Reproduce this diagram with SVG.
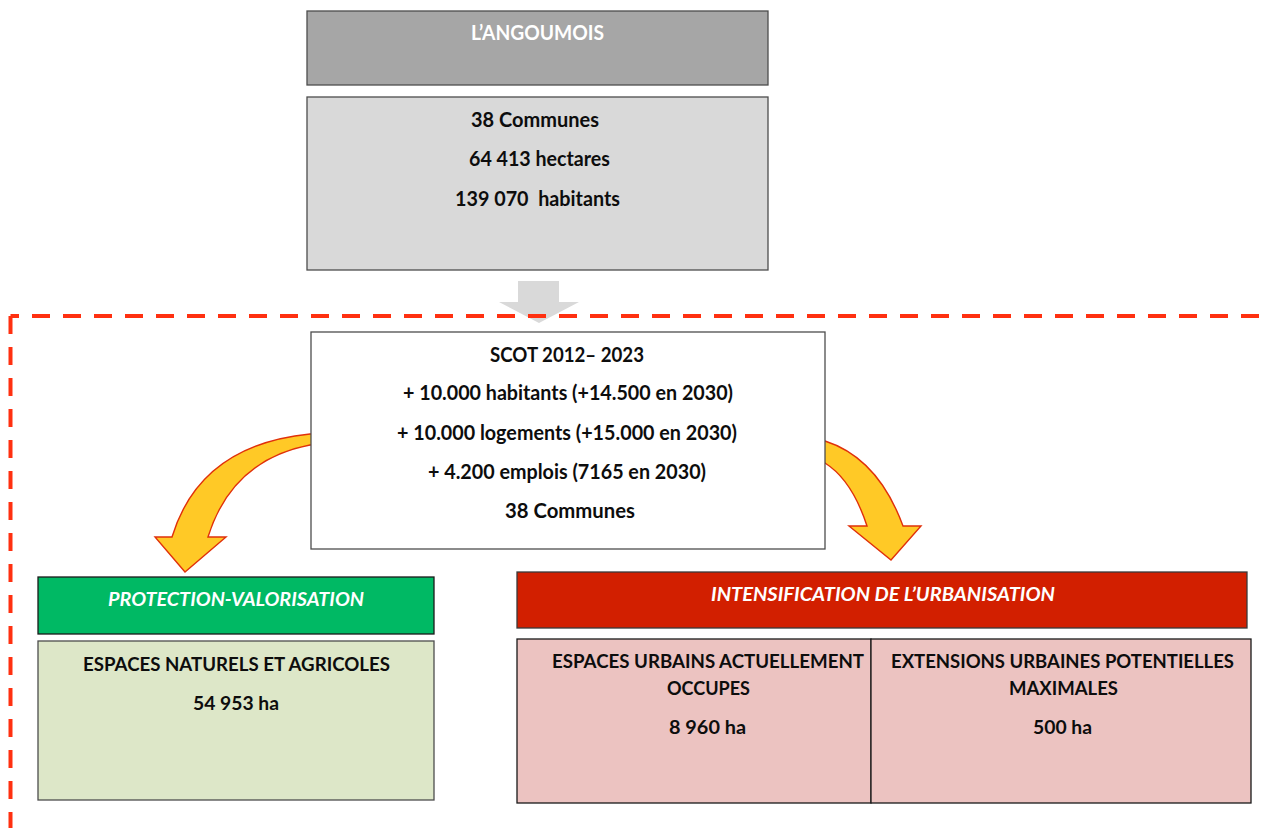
<svg xmlns="http://www.w3.org/2000/svg" width="1272" height="828" viewBox="0 0 1272 828">
<style>
text{font-family:Lato,"Noto Sans","Liberation Sans",sans-serif;font-weight:bold;fill:#0d0d0d;}
.big{font-size:20px;}
.sm{font-size:18.5px;}
.wh{fill:#ffffff;}
.it{font-style:italic;}
.box{stroke:#4d4d4d;stroke-width:1.3;}
.yarrow{fill:#ffc926;stroke:#e0300a;stroke-width:1.4;stroke-linejoin:miter;}
.dash{fill:none;stroke:#ff3010;stroke-width:4;stroke-dasharray:18 13;}
</style>

<g id="connectors">
  <path id="gray-arrow" d="M518,281 H559 V302 H579 L539,323 L499,302 H518 Z" fill="#d9d9d9"/>
  <path id="arrow-left" class="yarrow" d="M314,434 L310,434 Q200,445 172,537 L155,537 L185,572 L226,537 L208,537 Q232,460 310,445 L314,445 Z"/>
  <path id="arrow-right" class="yarrow" d="M821,441 L825,441 Q878,458 903,526 L921,526 L891,560 L849,526 L867,526 Q852,480 825,463 L821,463 Z"/>
</g>

<g id="boundary">
  <line class="dash" x1="10.5" y1="316" x2="10.5" y2="828"/>
  <line class="dash" x1="10.5" y1="316" x2="1272" y2="316" stroke-dashoffset="9.5"/>
</g>

<g id="angoumois-title">
  <rect class="box" x="307" y="11" width="461" height="74" fill="#a6a6a6"/>
  <text class="big wh" x="471" y="40" textLength="133" lengthAdjust="spacingAndGlyphs">L’ANGOUMOIS</text>
</g>

<g id="angoumois-data">
  <rect class="box" x="307" y="97" width="461" height="173" fill="#d9d9d9"/>
  <text class="big" x="471" y="127" textLength="128" lengthAdjust="spacingAndGlyphs">38 Communes</text>
  <text class="big" x="469" y="166" textLength="141" lengthAdjust="spacingAndGlyphs">64 413 hectares</text>
  <text class="big" x="455" y="206" textLength="165" lengthAdjust="spacingAndGlyphs" xml:space="preserve">139 070  habitants</text>
</g>

<g id="scot">
  <rect class="box" x="311" y="332" width="514" height="217" fill="#ffffff"/>
  <text class="big" x="490" y="362" textLength="154" lengthAdjust="spacingAndGlyphs">SCOT 2012– 2023</text>
  <text class="big" x="403" y="400" textLength="330" lengthAdjust="spacingAndGlyphs">+ 10.000 habitants (+14.500 en 2030)</text>
  <text class="big" x="397" y="440" textLength="340" lengthAdjust="spacingAndGlyphs">+ 10.000 logements (+15.000 en 2030)</text>
  <text class="big" x="428" y="479" textLength="278" lengthAdjust="spacingAndGlyphs">+ 4.200 emplois (7165 en 2030)</text>
  <text class="big" x="505" y="518" textLength="130" lengthAdjust="spacingAndGlyphs">38 Communes</text>
</g>

<g id="protection-header">
  <rect x="38" y="577" width="396" height="57" fill="#00b964" stroke="#1a1a1a" stroke-width="1.3"/>
  <text class="sm wh it" x="108" y="606" textLength="256" lengthAdjust="spacingAndGlyphs">PROTECTION-VALORISATION</text>
</g>

<g id="espaces-naturels">
  <rect class="box" x="38" y="641" width="396" height="159" fill="#dde7c8"/>
  <text class="sm" x="83" y="671" textLength="307" lengthAdjust="spacingAndGlyphs">ESPACES NATURELS ET AGRICOLES</text>
  <text class="sm" x="193" y="710" textLength="86" lengthAdjust="spacingAndGlyphs">54 953 ha</text>
</g>

<g id="intensification-header">
  <rect x="517" y="572" width="730" height="56" fill="#d21f00" stroke="#3a3a3a" stroke-width="1.3"/>
  <text class="sm wh it" x="711" y="601" textLength="344" lengthAdjust="spacingAndGlyphs">INTENSIFICATION DE L’URBANISATION</text>
</g>

<g id="espaces-urbains">
  <rect x="517" y="639" width="354" height="164" fill="#ecc3c1" stroke="#1a1a1a" stroke-width="1.3"/>
  <text class="sm" x="552" y="668" textLength="312" lengthAdjust="spacingAndGlyphs">ESPACES URBAINS ACTUELLEMENT</text>
  <text class="sm" x="667" y="695" textLength="83" lengthAdjust="spacingAndGlyphs">OCCUPES</text>
  <text class="sm" x="669" y="734" textLength="77" lengthAdjust="spacingAndGlyphs">8 960 ha</text>
</g>

<g id="extensions-urbaines">
  <rect x="871" y="639" width="380" height="164" fill="#ecc3c1" stroke="#1a1a1a" stroke-width="1.3"/>
  <text class="sm" x="891" y="668" textLength="343" lengthAdjust="spacingAndGlyphs">EXTENSIONS URBAINES POTENTIELLES</text>
  <text class="sm" x="1009" y="695" textLength="109" lengthAdjust="spacingAndGlyphs">MAXIMALES</text>
  <text class="sm" x="1033" y="734" textLength="59" lengthAdjust="spacingAndGlyphs">500 ha</text>
</g>
</svg>
